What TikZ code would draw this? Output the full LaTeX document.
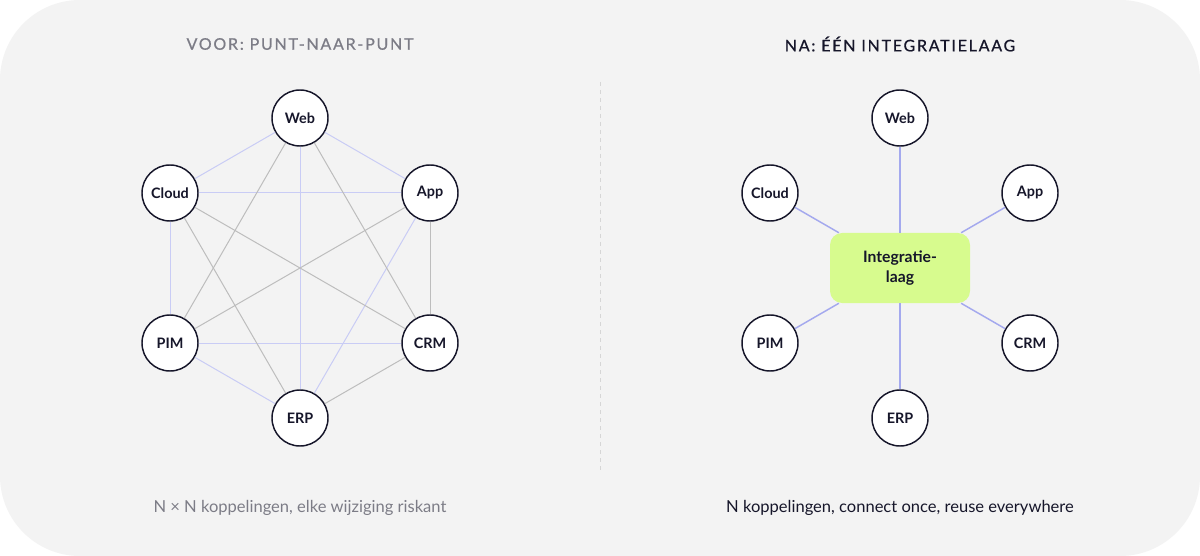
\documentclass[tikz,border=0pt]{standalone}
\usepackage{fontspec}
\setmainfont{Lato}
\newfontfamily\tracked[LetterSpace=11,FakeBold=0.7]{Lato}
\definecolor{bgpanel}{HTML}{F3F3F3}
\definecolor{ink}{HTML}{16162A}
\definecolor{muted}{HTML}{7C7C86}
\definecolor{bluelight}{HTML}{C9CCF5}
\definecolor{blueedge}{HTML}{A4A9EE}
\definecolor{grayedge}{HTML}{BDBDBD}
\definecolor{limebox}{HTML}{D7FB8E}
\definecolor{divider}{HTML}{D6D6D6}
\tikzset{
  sysnode/.style={circle, draw=ink, line width=1.1pt, fill=white, minimum size=42pt, inner sep=0pt, font=\fontsize{10.8}{12}\selectfont\bfseries, text=ink},
  bl/.style={draw=bluelight, line width=0.75pt},
  gl/.style={draw=grayedge, line width=0.75pt},
  hub/.style={draw=blueedge, line width=1.1pt},
  titleleft/.style={font=\tracked\fontsize{12}{13}\selectfont, text=muted},
  titleright/.style={font=\tracked\fontsize{12}{13}\selectfont, text=ink},
  caption/.style={font=\fontsize{12.4}{14}\selectfont},
  layerbox/.style={rounded corners=9pt, fill=limebox, minimum width=105pt, minimum height=52.5pt, align=center, font=\fontsize{11.8}{14.5}\selectfont\bfseries, text=ink}
}
\begin{document}
\begin{tikzpicture}[x=0.75pt,y=-0.75pt]
\useasboundingbox (0,0) rectangle (1200,556);
\fill[white] (0,0) rectangle (1200,556);
\fill[bgpanel, rounded corners=60pt] (0,0) rectangle (1200,556);
% titles
\node[titleleft] (tl) at (300,44) {VOOR: PUNT-NAAR-PUNT};
\node[titleright] (tr) at (900,44) {NA: ÉÉN INTEGRATIELAAG};
% divider
\coordinate (d1) at (600,82);
\coordinate (d2) at (600,470);
\draw[divider, line width=0.75pt, dash pattern=on 3pt off 3pt] (d1) -- (d2);
% left nodes
\node[sysnode] (lweb) at (300,118) {Web};
\node[sysnode] (lcloud) at (170,193) {Cloud};
\node[sysnode] (lapp) at (430,193) {App};
\node[sysnode] (lpim) at (170,343) {PIM};
\node[sysnode] (lcrm) at (430,343) {CRM};
\node[sysnode] (lerp) at (300,418) {ERP};
% left edges
\draw[bl] (lweb) -- (lcloud);
\draw[bl] (lweb) -- (lapp);
\draw[bl] (lweb) -- (lerp);
\draw[bl] (lcloud) -- (lapp);
\draw[bl] (lcloud) -- (lpim);
\draw[bl] (lpim) -- (lcrm);
\draw[bl] (lpim) -- (lerp);
\draw[bl] (lapp) -- (lerp);
\draw[gl] (lweb) -- (lpim);
\draw[gl] (lweb) -- (lcrm);
\draw[gl] (lcloud) -- (lcrm);
\draw[gl] (lcloud) -- (lerp);
\draw[gl] (lapp) -- (lpim);
\draw[gl] (lapp) -- (lcrm);
\draw[gl] (lcrm) -- (lerp);
% right
\node[layerbox] (layer) at (900,268) {Integratie-\\laag};
\node[sysnode] (rweb) at (900,118) {Web};
\node[sysnode] (rcloud) at (770,193) {Cloud};
\node[sysnode] (rapp) at (1030,193) {App};
\node[sysnode] (rpim) at (770,343) {PIM};
\node[sysnode] (rcrm) at (1030,343) {CRM};
\node[sysnode] (rerp) at (900,418) {ERP};
\draw[hub] (rweb) -- (layer);
\draw[hub] (rcloud) -- (layer);
\draw[hub] (rapp) -- (layer);
\draw[hub] (rpim) -- (layer);
\draw[hub] (rcrm) -- (layer);
\draw[hub] (rerp) -- (layer);
% captions
\node[caption, text=muted] (cl) at (300,508) {N × N koppelingen, elke wijziging riskant};
\node[caption, text=ink] (cr) at (900,508) {N koppelingen, connect once, reuse everywhere};
\end{tikzpicture}
\end{document}
